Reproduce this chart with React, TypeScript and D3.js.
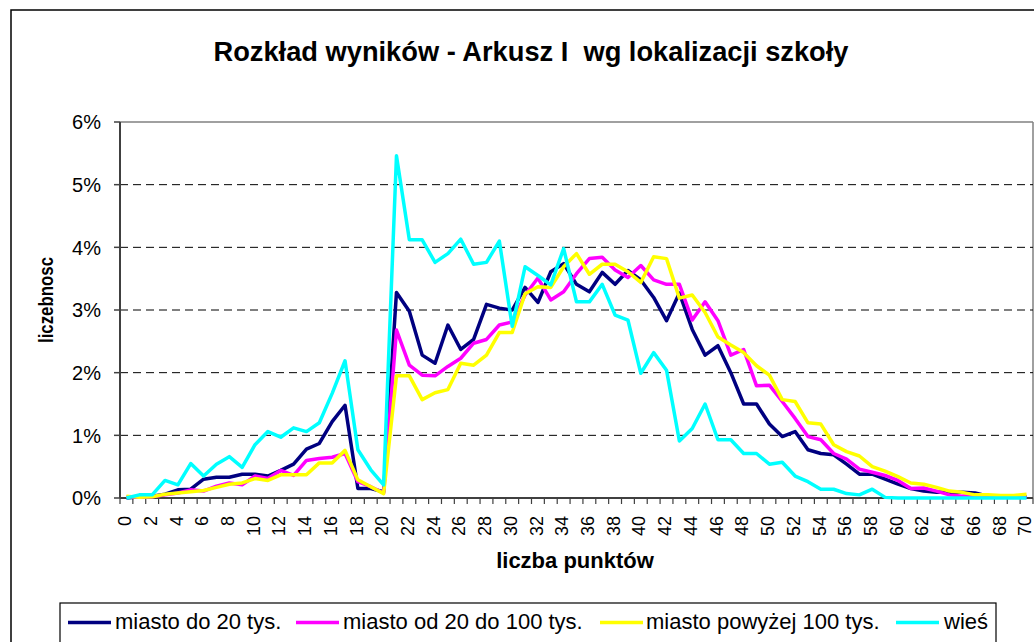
import React from "react";
import * as d3 from "d3";

const categories: number[] = Array.from({ length: 71 }, (_, i) => i);

const miastoDo20: number[] = [
  0.0, 0.02, 0.03, 0.06, 0.13, 0.14, 0.3, 0.33, 0.33, 0.38, 0.38, 0.35, 0.44, 0.54, 0.78, 0.87, 1.22, 1.48, 0.15, 0.15,
  0.1, 3.28, 2.98, 2.28, 2.15, 2.76, 2.37, 2.53, 3.09, 3.03, 3.0, 3.36, 3.12, 3.61, 3.74, 3.41, 3.29, 3.6, 3.41, 3.63,
  3.48, 3.2, 2.83, 3.27, 2.69, 2.28, 2.43, 2.0, 1.5, 1.5, 1.18, 0.98, 1.06, 0.77, 0.71, 0.69, 0.54, 0.38, 0.38, 0.3,
  0.22, 0.15, 0.11, 0.09, 0.09, 0.09, 0.08, 0.03, 0.02, 0.02, 0.02,
];

const miastoOd20do100: number[] = [
  0.02, 0.01, 0.02, 0.05, 0.08, 0.13, 0.11, 0.19, 0.24, 0.21, 0.35, 0.31, 0.44, 0.36, 0.6, 0.63, 0.65, 0.71, 0.26, 0.18,
  0.08, 2.68, 2.12, 1.96, 1.95, 2.1, 2.23, 2.47, 2.53, 2.76, 2.81, 3.24, 3.51, 3.16, 3.29, 3.58, 3.82, 3.84, 3.64, 3.52,
  3.71, 3.48, 3.41, 3.41, 2.84, 3.13, 2.83, 2.28, 2.37, 1.79, 1.8, 1.54, 1.27, 0.98, 0.93, 0.71, 0.62, 0.46, 0.41, 0.36,
  0.28, 0.15, 0.16, 0.11, 0.05, 0.03, 0.02, 0.01, 0.01, 0.01, 0.02,
];

const miastoPow100: number[] = [
  0.03, 0.01, 0.02, 0.06, 0.08, 0.1, 0.12, 0.17, 0.22, 0.24, 0.31, 0.28, 0.37, 0.37, 0.37, 0.56, 0.56, 0.76, 0.29, 0.18,
  0.07, 1.95, 1.95, 1.57, 1.68, 1.73, 2.15, 2.12, 2.28, 2.64, 2.64, 3.26, 3.37, 3.36, 3.69, 3.9, 3.57, 3.73, 3.73, 3.61,
  3.44, 3.85, 3.82, 3.19, 3.24, 2.96, 2.57, 2.44, 2.32, 2.11, 1.96, 1.57, 1.54, 1.2, 1.18, 0.85, 0.74, 0.67, 0.5, 0.43,
  0.34, 0.24, 0.22, 0.17, 0.11, 0.09, 0.05, 0.05, 0.04, 0.04, 0.06,
];

const wies: number[] = [
  0.0, 0.05, 0.05, 0.28, 0.21, 0.55, 0.35, 0.54, 0.66, 0.49, 0.85, 1.06, 0.97, 1.12, 1.06, 1.2, 1.67, 2.19, 0.77, 0.45,
  0.21, 5.46, 4.12, 4.12, 3.76, 3.9, 4.13, 3.73, 3.76, 4.1, 2.74, 3.69, 3.55, 3.4, 3.98, 3.13, 3.13, 3.41, 2.92, 2.84,
  1.99, 2.32, 2.04, 0.91, 1.11, 1.5, 0.93, 0.93, 0.71, 0.71, 0.54, 0.57, 0.35, 0.26, 0.14, 0.14, 0.07, 0.05, 0.14, 0.01,
  0.0, 0.0, 0.0, 0.0, 0.0, 0.0, 0.0, 0.0, 0.0, 0.0, 0.0,
];

const seriesNames: string[] = ["miasto do 20 tys.", "miasto od 20 do 100 tys.", "miasto powyżej 100 tys.", "wieś"];
const seriesColors: string[] = ["#000080", "#FF00FF", "#FFFF00", "#00FFFF"];
const yTicks: number[] = [0, 1, 2, 3, 4, 5, 6];

const title = "Rozkład wyników - Arkusz I  wg lokalizacji szkoły";
const xTitle = "liczba punktów";
const yTitle = "liczebnosc";

const FONT = "'Liberation Sans', Arial, sans-serif";

export default function App() {
  const W = 1034;
  const H = 642;
  const left = 120;
  const right = 1033;
  const top = 122;
  const bottom = 498;

  const x = d3.scaleLinear().domain([-0.5, 70.5]).range([left, right]);
  const y = d3.scaleLinear().domain([0, 6]).range([bottom, top]);

  const allSeries = [miastoDo20, miastoOd20do100, miastoPow100, wies];
  const line = d3
    .line<number>()
    .x((_, i) => x(categories[i]))
    .y((d) => y(d));

  const boundaries = d3.range(0, 72).map((i) => i - 0.5);

  const legendItems = [
    { lx: 68, tx: 115 },
    { lx: 296, tx: 343 },
    { lx: 600, tx: 646 },
    { lx: 896, tx: 944 },
  ];

  return (
    <svg
      width={W}
      height={H}
      style={{ position: "fixed", left: 0, top: 0, background: "#fff" }}
      fontFamily={FONT}
    >
      <rect x={0} y={0} width={W} height={H} fill="#fff" />
      <rect x={11} y={10} width={W + 20} height={H + 20} fill="none" stroke="#000" strokeWidth={1.5} />

      <text
        x={531}
        y={61}
        textAnchor="middle"
        fontSize={27}
        fontWeight="bold"
        fill="#000"
        style={{ whiteSpace: "pre" }}
        xmlSpace="preserve"
        textLength={635}
        lengthAdjust="spacingAndGlyphs"
      >
        {title}
      </text>

      <line x1={left} x2={right} y1={top} y2={top} stroke="#808080" strokeWidth={1.5} />
      <line x1={right} x2={right} y1={top} y2={bottom} stroke="#808080" strokeWidth={1.5} />

      {yTicks
        .filter((t) => t > 0 && t < 6)
        .map((t) => (
          <line
            key={"g" + t}
            x1={left}
            x2={right}
            y1={y(t)}
            y2={y(t)}
            stroke="#000"
            strokeWidth={1}
            strokeDasharray="8,5"
          />
        ))}

      <line x1={left} x2={left} y1={top} y2={bottom} stroke="#404040" strokeWidth={2} />
      {yTicks.map((t) => (
        <g key={"yt" + t}>
          <line x1={left - 6} x2={left} y1={y(t)} y2={y(t)} stroke="#404040" strokeWidth={1.5} />
          <text x={101} y={y(t)} dy="0.36em" textAnchor="end" fontSize={20} fill="#000">
            {t + "%"}
          </text>
        </g>
      ))}

      <line x1={left} x2={right} y1={bottom} y2={bottom} stroke="#404040" strokeWidth={2} />
      {boundaries.map((b) => (
        <line key={"xt" + b} x1={x(b)} x2={x(b)} y1={bottom} y2={bottom + 6} stroke="#404040" strokeWidth={1.2} />
      ))}
      {categories
        .filter((c) => c % 2 === 0)
        .map((c) => (
          <text
            key={"xl" + c}
            transform={`translate(${x(c) - 1.8},516) rotate(-90)`}
            dy="0.36em"
            textAnchor="end"
            fontSize={18}
            fill="#000"
          >
            {String(c)}
          </text>
        ))}

      <text x={575} y={568} textAnchor="middle" fontSize={22} fontWeight="bold" fill="#000">
        {xTitle}
      </text>
      <text
        transform="translate(53,300) rotate(-90)"
        textAnchor="middle"
        fontSize={21}
        fontWeight="bold"
        fill="#000"
        textLength={86}
        lengthAdjust="spacingAndGlyphs"
      >
        {yTitle}
      </text>

      {allSeries.map((s, si) => (
        <path
          key={"s" + si}
          d={line(s) || ""}
          fill="none"
          stroke={seriesColors[si]}
          strokeWidth={3.5}
          strokeLinejoin="round"
        />
      ))}

      <rect x={60} y={603} width={936} height={50} fill="#fff" stroke="#000" strokeWidth={1.2} />
      {seriesNames.map((n, i) => (
        <g key={"lg" + i}>
          <line
            x1={legendItems[i].lx}
            x2={legendItems[i].lx + 43}
            y1={622.5}
            y2={622.5}
            stroke={seriesColors[i]}
            strokeWidth={3.5}
          />
          <text x={legendItems[i].tx} y={629} fontSize={22} fill="#000">
            {n}
          </text>
        </g>
      ))}
    </svg>
  );
}
